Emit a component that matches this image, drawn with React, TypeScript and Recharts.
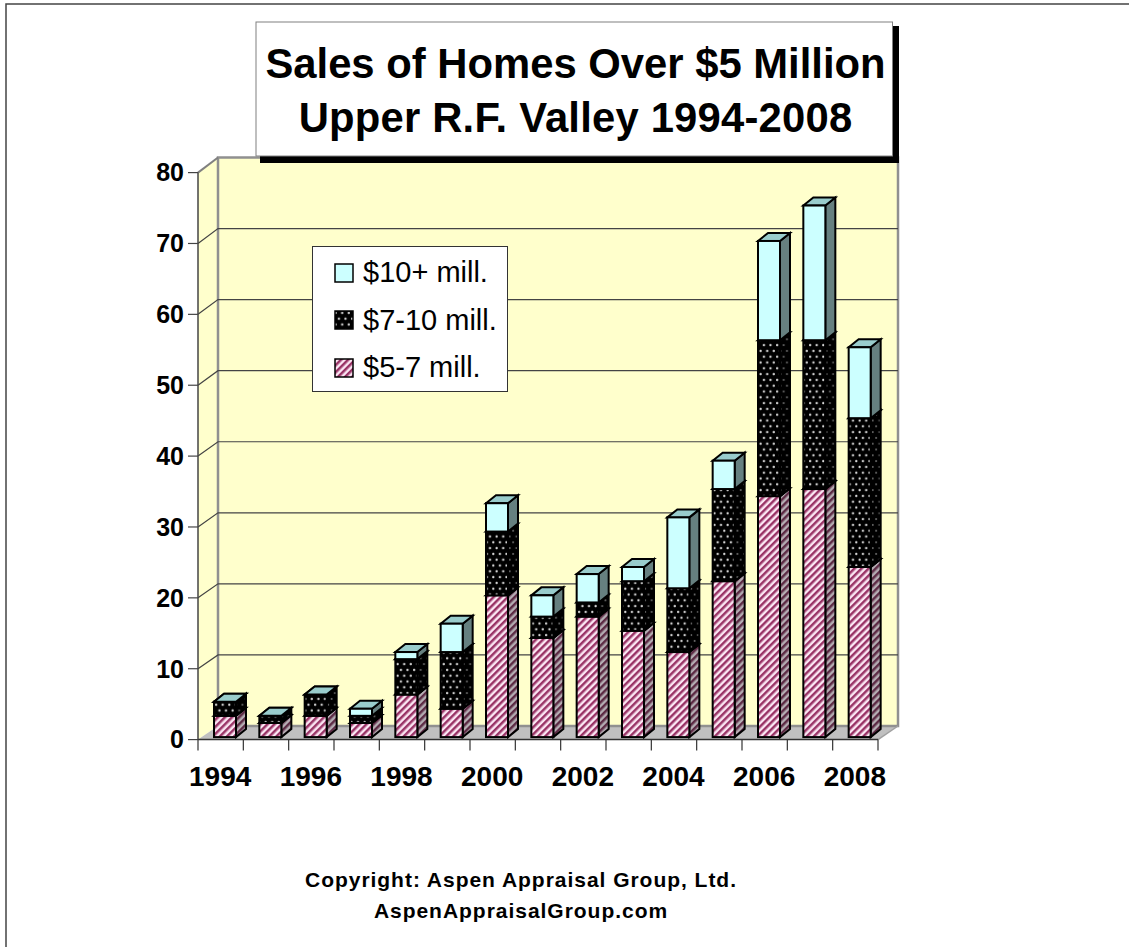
import { BarChart, Bar, XAxis, YAxis, CartesianGrid, Legend } from 'recharts'

const years = ['1994', '1995', '1996', '1997', '1998', '1999', '2000', '2001', '2002', '2003', '2004', '2005', '2006', '2007', '2008']
const lowTier = [3, 2, 3, 2, 6, 4, 20, 14, 17, 15, 12, 22, 34, 35, 24]
const midTier = [2, 1, 3, 1, 5, 8, 9, 3, 2, 7, 9, 13, 22, 21, 21]
const topTier = [0, 0, 0, 1, 1, 4, 4, 3, 4, 2, 10, 4, 14, 19, 10]
const yTicks = [0, 10, 20, 30, 40, 50, 60, 70, 80]
const titleLines = ['Sales of Homes Over $5 Million', 'Upper R.F. Valley 1994-2008']
const footerLines = ['Copyright: Aspen Appraisal Group, Ltd.', 'AspenAppraisalGroup.com']
const legendItems = [
  { label: '$10+ mill.', fill: '#CCFFFF' },
  { label: '$7-10 mill.', fill: 'url(#dots)' },
  { label: '$5-7 mill.', fill: 'url(#stripes)' },
]

const rows = years.map((year, i) => ({ year, low: lowTier[i], mid: midTier[i], top: topTier[i] }))

const WIDTH = 1129
const HEIGHT = 947
const FONT = '"Liberation Sans", Arial, sans-serif'

// plot rectangle of the front plane, and the back wall behind it
const LEFT = 198
const RIGHT = 878
const TOP = 172.6
const BOTTOM = 739.6
const WALL_DX = 20
const BACK_TOP = 157.5
const BACK_BOTTOM = 726
const BAND = (RIGHT - LEFT) / years.length

// bars sit in the middle of the floor depth
const BAR_DX = 4
const BAR_DY = 2.5
const BOX_DX = 10
const BOX_DY = 8

const Box = (props: any) => {
  const { x, y, width, height, front, side, cap } = props
  const l = x + BAR_DX
  const t = y - BAR_DY
  const r = l + width
  const b = t + height
  return (
    <g stroke='#000' strokeWidth={2} strokeLinejoin='miter'>
      <polygon points={`${r},${t} ${r + BOX_DX},${t - BOX_DY} ${r + BOX_DX},${b - BOX_DY} ${r},${b}`} fill={side} />
      <polygon points={`${l},${t} ${l + BOX_DX},${t - BOX_DY} ${r + BOX_DX},${t - BOX_DY} ${r},${t}`} fill={cap} />
      <rect x={l} y={t} width={width} height={height} fill={front} />
    </g>
  )
}

// one grid line runs up the left wall, then across the back wall
const GridLine = (props: any) => {
  const { y1 } = props
  if (Math.abs(y1 - TOP) < 1 || Math.abs(y1 - BOTTOM) < 1) return <g />
  const backY = BACK_BOTTOM - ((BOTTOM - y1) * (BACK_BOTTOM - BACK_TOP)) / (BOTTOM - TOP)
  return (
    <path
      d={`M${LEFT},${y1} L${LEFT + WALL_DX},${backY} L${RIGHT + WALL_DX},${backY}`}
      fill='none'
      stroke='#444'
      strokeWidth={1.2}
    />
  )
}

const YearTick = (props: any) => {
  const { x, payload, index } = props
  const edge = x - BAND / 2
  return (
    <g>
      <line x1={edge} y1={BOTTOM} x2={edge} y2={BOTTOM + 11} stroke='#333' strokeWidth={1.2} />
      {index === years.length - 1 && (
        <line x1={edge + BAND} y1={BOTTOM} x2={edge + BAND} y2={BOTTOM + 11} stroke='#333' strokeWidth={1.2} />
      )}
      {index % 2 === 0 && (
        <text x={x - 0.5} y={BOTTOM + 46} textAnchor='middle' fontSize={28} fontWeight={700} fontFamily={FONT} fill='#000'>
          {payload.value}
        </text>
      )}
    </g>
  )
}

const LegendBox = () => (
  <div
    style={{
      width: 196,
      height: 146,
      boxSizing: 'border-box',
      background: '#fff',
      border: '1px solid #333',
      padding: '2px 0 0 21px',
      fontFamily: FONT,
      fontSize: 29,
      lineHeight: '47.5px',
      color: '#000',
    }}
  >
    {legendItems.map((item) => (
      <div key={item.label} style={{ display: 'flex', alignItems: 'center', whiteSpace: 'nowrap' }}>
        <svg width={20} height={20} style={{ marginRight: 9, flex: 'none' }}>
          <rect x={1} y={1} width={18} height={18} fill={item.fill} stroke='#000' strokeWidth={1.5} />
        </svg>
        {item.label}
      </div>
    ))}
  </div>
)

// frame, walls and floor sit behind the chart's own grid lines
const Backdrop = () => (
  <svg width={WIDTH} height={HEIGHT} style={{ position: 'absolute', left: 0, top: 0 }}>
    <path d={`M6,${HEIGHT} L6,4 L${WIDTH},4`} fill='none' stroke='#444' strokeWidth={1.5} />
    <polygon
      points={`${LEFT},${TOP} ${LEFT + WALL_DX},${BACK_TOP} ${LEFT + WALL_DX},${BACK_BOTTOM} ${LEFT},${BOTTOM}`}
      fill='#FFFFCC'
    />
    <polygon
      points={`${LEFT},${BOTTOM} ${LEFT + WALL_DX},${BACK_BOTTOM} ${RIGHT + WALL_DX},${BACK_BOTTOM} ${RIGHT},${BOTTOM}`}
      fill='#C0C0C0'
    />
    <rect
      x={LEFT + WALL_DX}
      y={BACK_TOP}
      width={RIGHT - LEFT}
      height={BACK_BOTTOM - BACK_TOP}
      fill='#FFFFCC'
      stroke='#909090'
      strokeWidth={2.5}
    />
    <line x1={LEFT} y1={TOP} x2={LEFT + WALL_DX} y2={BACK_TOP} stroke='#808080' strokeWidth={2} />
    <line x1={RIGHT} y1={BOTTOM} x2={RIGHT + WALL_DX} y2={BACK_BOTTOM} stroke='#A0A0A0' strokeWidth={1.5} />
  </svg>
)

export default function App() {
  return (
    <div style={{ position: 'absolute', left: 0, top: 0, width: WIDTH, height: HEIGHT, background: '#fff' }}>
      <Backdrop />
      <BarChart
        width={WIDTH}
        height={HEIGHT}
        data={rows}
        barSize={22}
        margin={{ top: TOP, right: WIDTH - RIGHT, bottom: HEIGHT - BOTTOM - 60, left: 0 }}
      >
        <defs>
          <pattern id='stripes' width={5} height={5} patternUnits='userSpaceOnUse' patternTransform='rotate(45)'>
            <rect width={5} height={5} fill='#FBE6F3' />
            <rect width={2.5} height={5} fill='#993366' />
          </pattern>
          <pattern id='stripesDark' width={5} height={5} patternUnits='userSpaceOnUse' patternTransform='rotate(45)'>
            <rect width={5} height={5} fill='#B4ACB2' />
            <rect width={2.5} height={5} fill='#5C2A44' />
          </pattern>
          <pattern id='dots' width={6.6} height={11.6} patternUnits='userSpaceOnUse'>
            <rect width={6.6} height={11.6} fill='#000' />
            <circle cx={1.6} cy={2.9} r={1.15} fill='#D8D8D8' />
            <circle cx={4.9} cy={8.7} r={1.15} fill='#D8D8D8' />
          </pattern>
          <pattern id='dotsDark' width={6.6} height={11.6} patternUnits='userSpaceOnUse'>
            <rect width={6.6} height={11.6} fill='#000' />
            <circle cx={1.6} cy={2.9} r={1} fill='#707070' />
            <circle cx={4.9} cy={8.7} r={1} fill='#707070' />
          </pattern>
        </defs>

        <CartesianGrid vertical={false} horizontal={GridLine} />
        <XAxis
          dataKey='year'
          interval={0}
          tick={YearTick}
          tickLine={false}
          axisLine={{ stroke: '#333', strokeWidth: 1.5 }}
          height={60}
        />
        <YAxis
          domain={[0, 80]}
          ticks={yTicks}
          interval={0}
          width={LEFT}
          tickSize={10}
          tickMargin={4}
          tickLine={{ stroke: '#444', strokeWidth: 1.2 }}
          axisLine={{ stroke: '#444', strokeWidth: 1.5 }}
          tick={{ fontSize: 25, fontWeight: 700, fill: '#000', fontFamily: FONT }}
        />
        <Legend
          layout='vertical'
          verticalAlign='middle'
          align='center'
          content={LegendBox}
          wrapperStyle={{ left: 312, top: 246, width: 196, height: 146 }}
        />

        <Bar
          dataKey='low'
          stackId='sales'
          isAnimationActive={false}
          shape={(p: any) => <Box {...p} front='url(#stripes)' side='url(#stripesDark)' cap='#CC99B3' />}
        />
        <Bar
          dataKey='mid'
          stackId='sales'
          isAnimationActive={false}
          shape={(p: any) => <Box {...p} front='url(#dots)' side='url(#dotsDark)' cap='#222' />}
        />
        <Bar
          dataKey='top'
          stackId='sales'
          isAnimationActive={false}
          shape={(p: any) => <Box {...p} front='#CCFFFF' side='#668080' cap='#99CCCC' />}
        />

        {/* title card with its hard shadow */}
        <rect x={260} y={26} width={639} height={137} fill='#000' />
        <rect x={256} y={22} width={636.5} height={134} fill='#fff' stroke='#808080' strokeWidth={1} />
        {titleLines.map((line, i) => (
          <text
            key={line}
            x={575.5}
            y={78 + i * 54}
            textAnchor='middle'
            fontSize={41.8}
            fontWeight={700}
            letterSpacing={i === 1 ? 0.2 : 0}
            fontFamily={FONT}
            fill='#000'
          >
            {line}
          </text>
        ))}

        {footerLines.map((line, i) => (
          <text
            key={line}
            x={521}
            y={887 + i * 31}
            textAnchor='middle'
            fontSize={21}
            fontWeight={700}
            letterSpacing={0.97}
            fontFamily={FONT}
            fill='#000'
          >
            {line}
          </text>
        ))}
      </BarChart>
    </div>
  )
}
